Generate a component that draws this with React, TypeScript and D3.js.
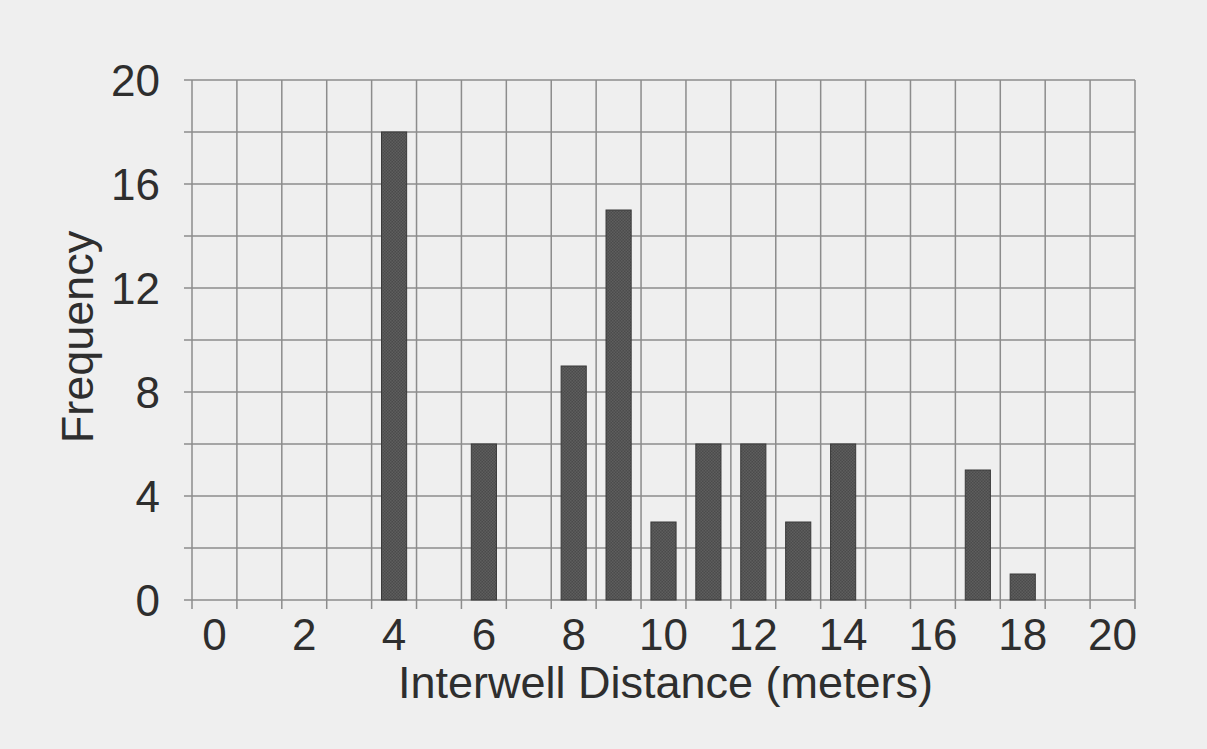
import * as d3 from 'd3'

const W = 1207
const H = 749
const margin = { top: 80, right: 72, bottom: 149, left: 192 }
const plotW = W - margin.left - margin.right
const plotH = H - margin.top - margin.bottom

// bins of interwell distance (meters) and counts
const bins = d3.range(0, 21).map(String)
const binsWithBars = ['4', '6', '8', '9', '10', '11', '12', '13', '14', '17', '18']
const frequencies = [18, 6, 9, 15, 3, 6, 6, 3, 6, 5, 1]
const xTickLabels = ['0', '2', '4', '6', '8', '10', '12', '14', '16', '18', '20']
const yGridValues = [0, 2, 4, 6, 8, 10, 12, 14, 16, 18, 20]
const yTickLabels = [0, 4, 8, 12, 16, 20]

const font = '"Liberation Sans", Arial, Helvetica, sans-serif'
const gridColor = '#8c8c8c'
const textColor = '#2e2e2e'

export default function App() {
  const x = d3
    .scaleBand()
    .domain(bins)
    .range([0, plotW])
    .paddingInner(0.44)
    .paddingOuter(0.22)
  const y = d3.scaleLinear().domain([0, 20]).range([plotH, 0])

  const half = (x.step() - x.bandwidth()) / 2
  // band boundaries for the vertical grid
  const vLines = bins.map((b) => (x(b) as number) - half).concat([plotW])

  const bars = binsWithBars.map((b, i) => ({ bin: b, value: frequencies[i] }))

  return (
    <svg
      width={W}
      height={H}
      style={{ position: 'absolute', left: 0, top: 0, display: 'block' }}
    >
      <defs>
        <pattern id="stipple" width="3" height="3" patternUnits="userSpaceOnUse">
          <rect width="3" height="3" fill="#4b4b4b" />
          <rect width="1.5" height="1.5" fill="#5e5e5e" />
          <rect x="1.5" y="1.5" width="1.5" height="1.5" fill="#5e5e5e" />
        </pattern>
      </defs>
      <rect width={W} height={H} fill="#efefef" />
      <g transform={`translate(${margin.left}, ${margin.top})`}>
        {/* horizontal grid */}
        {yGridValues.map((v) => (
          <line
            key={'h' + v}
            x1={-8}
            x2={plotW}
            y1={y(v)}
            y2={y(v)}
            stroke={gridColor}
            strokeWidth={1.5}
          />
        ))}
        {/* vertical grid, running a bit below the axis as ticks */}
        {vLines.map((vx, i) => (
          <line
            key={'v' + i}
            x1={vx}
            x2={vx}
            y1={0}
            y2={plotH + 9}
            stroke={gridColor}
            strokeWidth={1.5}
          />
        ))}

        {bars.map((d) => (
          <rect
            key={d.bin}
            x={x(d.bin)}
            y={y(d.value)}
            width={x.bandwidth()}
            height={plotH - y(d.value)}
            fill="url(#stipple)"
            stroke="#3a3a3a"
            strokeWidth={1}
          />
        ))}

        {yTickLabels.map((v) => (
          <text
            key={'yt' + v}
            x={-32}
            y={y(v)}
            dy="0.36em"
            textAnchor="end"
            fontFamily={font}
            fontSize={44}
            fill={textColor}
          >
            {v}
          </text>
        ))}

        {xTickLabels.map((t) => (
          <text
            key={'xt' + t}
            x={(x(t) as number) + x.bandwidth() / 2}
            y={plotH + 50}
            textAnchor="middle"
            fontFamily={font}
            fontSize={44}
            fill={textColor}
          >
            {t}
          </text>
        ))}

        <text
          x={plotW / 2 + 2}
          y={plotH + 98}
          textAnchor="middle"
          fontFamily={font}
          fontSize={45}
          fill={textColor}
        >
          Interwell Distance (meters)
        </text>
        <text
          transform={`translate(${-99}, ${plotH / 2 - 3}) rotate(-90)`}
          textAnchor="middle"
          fontFamily={font}
          fontSize={45}
          fill={textColor}
        >
          Frequency
        </text>
      </g>
    </svg>
  )
}
